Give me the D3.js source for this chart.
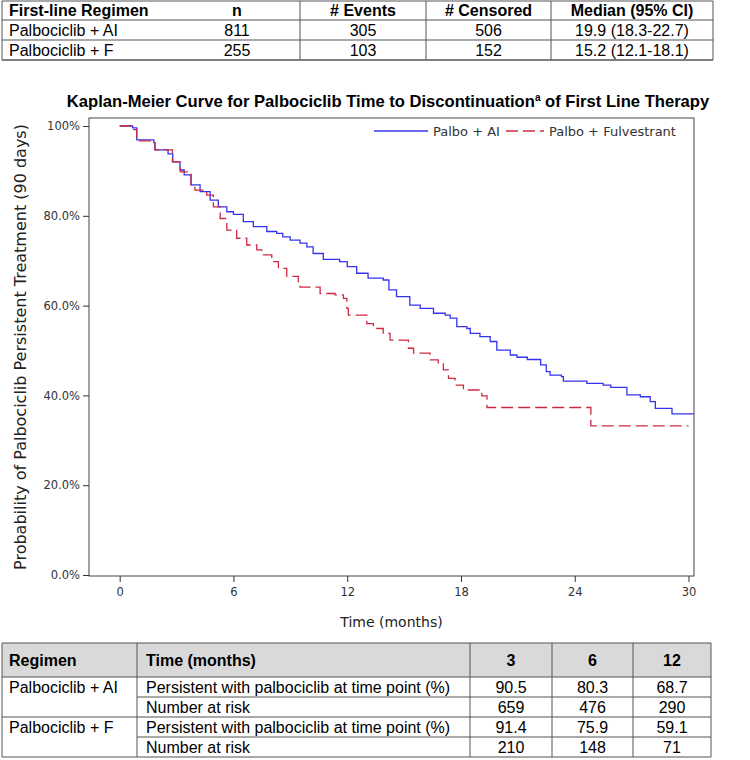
<!DOCTYPE html>
<html><head><meta charset="UTF-8">
<title>Kaplan-Meier Curve</title>
<script src="https://d3js.org/d3.v7.min.js"></script>
<style>
	body { margin: 0; background: #fff; }
	.tbl { font-family: "Liberation Sans", Arial, sans-serif; font-size: 16px; fill: #000; }
	.axis text { font-family: "DejaVu Sans", sans-serif; font-size: 11.5px; fill: #333; }
	.axis line { stroke: #333; }
</style>
</head>
<body>
<svg id="chart" width="750" height="760"></svg>
<script>
// KM step points: [month, probability]
var aiCurve = [[0,1.0],[0.68,0.996],[0.9,0.969],[1.8,0.963],[1.86,0.947],[2.55,0.938],[2.8,0.920],
	[3.18,0.902],[3.4,0.891],[3.76,0.869],[4.24,0.854],[4.77,0.835],[5.2,0.820],[5.65,0.809],[6.0,0.803],
	[6.52,0.787],[7.05,0.776],[7.76,0.765],[8.28,0.761],[8.6,0.753],[8.99,0.746],[9.51,0.739],[9.87,0.731],
	[10.2,0.716],[10.74,0.703],[11.6,0.698],[12.0,0.687],[12.5,0.672],[13.1,0.661],[13.9,0.657],[14.2,0.635],
	[14.6,0.620],[15.3,0.601],[15.85,0.594],[16.55,0.583],[17.17,0.579],[17.43,0.572],[17.78,0.553],
	[18.31,0.549],[18.49,0.538],[19.0,0.531],[19.54,0.520],[19.89,0.501],[20.6,0.490],[20.95,0.485],
	[21.5,0.480],[22.2,0.468],[22.5,0.453],[22.7,0.445],[23.3,0.442],[23.4,0.432],[24.64,0.427],
	[25.5,0.423],[25.9,0.418],[26.75,0.401],[27.46,0.397],[27.98,0.386],[28.25,0.371],[29.13,0.359],[30.3,0.359]];
var fCurve = [[0,1.0],[0.68,0.992],[0.9,0.967],[1.86,0.947],[2.78,0.920],[3.2,0.898],[3.76,0.869],
	[3.97,0.857],[4.59,0.846],[4.94,0.820],[5.3,0.794],[5.65,0.768],[6.17,0.750],[6.7,0.735],[7.23,0.724],
	[7.49,0.713],[8.02,0.698],[8.37,0.683],[8.81,0.665],[9.42,0.650],[9.51,0.641],[10.57,0.627],
	[11.36,0.624],[11.8,0.616],[11.98,0.594],[12.06,0.579],[13.03,0.560],[13.38,0.549],[13.9,0.538],
	[14.26,0.523],[15.23,0.505],[15.5,0.494],[16.37,0.479],[16.8,0.470],[17.07,0.457],[17.34,0.438],
	[17.69,0.423],[18.13,0.412],[19.1,0.399],[19.37,0.373],[24.85,0.332],[30.0,0.332]];

var seriesNames = ["Palbo + AI", "Palbo + Fulvestrant"];
var xTicks = [0, 6, 12, 18, 24, 30];
var yTicks = [0, 0.2, 0.4, 0.6, 0.8, 1.0];
var yTickLabels = ["0.0%", "20.0%", "40.0%", "60.0%", "80.0%", "100%"];

// top summary table
var topHeader = ["First-line Regimen", "n", "# Events", "# Censored", "Median (95% CI)"];
var topRows = [
	["Palbociclib + AI", "811", "305", "506", "19.9 (18.3-22.7)"],
	["Palbociclib + F", "255", "103", "152", "15.2 (12.1-18.1)"]
];

// bottom landmark table
var bottomHeader = ["Regimen", "Time (months)", "3", "6", "12"];
var bottomGroups = ["Palbociclib + AI", "Palbociclib + F"];
var bottomMeasures = ["Persistent with palbociclib at time point (%)", "Number at risk"];
var bottomValues = [
	[["90.5", "80.3", "68.7"], ["659", "476", "290"]],
	[["91.4", "75.9", "59.1"], ["210", "148", "71"]]
];

var svg = d3.select("#chart");
var lineCol = "#555";
var blue = "#3434ee", red = "#cc2a42";

function hline(x1, x2, y, w) {
	svg.append("line").attr("x1", x1).attr("x2", x2).attr("y1", y).attr("y2", y)
		.attr("stroke", lineCol).attr("stroke-width", w || 1);
}
function vline(x, y1, y2) {
	svg.append("line").attr("x1", x).attr("x2", x).attr("y1", y1).attr("y2", y2)
		.attr("stroke", lineCol).attr("stroke-width", 1);
}
function cellText(s, x, yMid, anchor, bold) {
	svg.append("text").attr("class", "tbl").attr("x", x).attr("y", yMid + 5.7)
		.attr("text-anchor", anchor).attr("font-weight", bold ? "bold" : null).text(s);
}

// ---------- top table ----------
var tX = [2, 174, 300, 426, 551, 713];
var tY = [1, 20, 40, 60];
tY.forEach(function(y, i) { hline(tX[0], tX[5], y, i == 3 ? 1.6 : 1); });
[0, 2, 3, 4, 5].forEach(function(i) { vline(tX[i], tY[0], tY[3]); });
var topAll = [topHeader].concat(topRows);
topAll.forEach(function(row, r) {
	var ym = (tY[r] + tY[r + 1]) / 2;
	row.forEach(function(s, c) {
		if (c == 0) cellText(s, tX[0] + 7, ym, "start", r == 0);
		else if (c == 1) cellText(s, 237, ym, "middle", r == 0);
		else cellText(s, (tX[c] + tX[c + 1]) / 2, ym, "middle", r == 0);
	});
});

// ---------- KM plot ----------
var frame = {left: 89, right: 694, top: 118, bottom: 576};
var x = d3.scaleLinear().domain([0, 30]).range([119.7, 688.5]);
var y = d3.scaleLinear().domain([0, 1]).range([575, 126]);

svg.append("text")
	.attr("x", 388).attr("y", 107).attr("text-anchor", "middle")
	.attr("font-family", "Liberation Sans, Arial, sans-serif").attr("font-size", 16.6).attr("font-weight", "bold")
	.call(function(t) {
		t.append("tspan").text("Kaplan-Meier Curve for Palbociclib Time to Discontinuation");
		t.append("tspan").attr("font-size", 10).attr("dy", -6).text("a");
		t.append("tspan").attr("dy", 6).text(" of First Line Therapy");
	});

svg.append("clipPath").attr("id", "clip").append("rect")
	.attr("x", frame.left).attr("y", frame.top)
	.attr("width", frame.right - frame.left).attr("height", frame.bottom - frame.top);

var line = d3.line().x(function(d) { return x(d[0]); }).y(function(d) { return y(d[1]); })
	.curve(d3.curveStepAfter);

var g = svg.append("g").attr("clip-path", "url(#clip)");
g.append("path").datum(aiCurve).attr("d", line)
	.attr("fill", "none").attr("stroke", blue).attr("stroke-width", 1.3);
g.append("path").datum(fCurve).attr("d", line)
	.attr("fill", "none").attr("stroke", red).attr("stroke-width", 1.3)
	.attr("stroke-dasharray", "12,5");

svg.append("rect").attr("x", frame.left).attr("y", frame.top)
	.attr("width", frame.right - frame.left).attr("height", frame.bottom - frame.top)
	.attr("fill", "none").attr("stroke", "#444").attr("stroke-width", 1);

svg.append("g").attr("class", "axis").attr("transform", "translate(" + frame.left + ",0)")
	.call(d3.axisLeft(y).tickValues(yTicks).tickSize(6).tickPadding(3)
		.tickFormat(function(d, i) { return yTickLabels[i]; }))
	.call(function(a) { a.select(".domain").remove(); });

svg.append("g").attr("class", "axis").attr("transform", "translate(0," + frame.bottom + ")")
	.call(d3.axisBottom(x).tickValues(xTicks).tickSize(6).tickPadding(6))
	.call(function(a) { a.select(".domain").remove(); });

svg.append("text").attr("x", (frame.left + frame.right) / 2).attr("y", 627)
	.attr("text-anchor", "middle").attr("font-family", "DejaVu Sans, sans-serif")
	.attr("font-size", 14).attr("fill", "#222").text("Time (months)");

svg.append("text").attr("transform", "translate(26," + ((frame.top + frame.bottom) / 2) + ") rotate(-90)")
	.attr("text-anchor", "middle").attr("font-family", "DejaVu Sans, sans-serif")
	.attr("font-size", 16).attr("fill", "#222")
	.text("Probability of Palbociclib Persistent Treatment (90 days)");

// legend, laid out left to right from the blue sample
var legY = 131, lx = 374;
[{name: seriesNames[0], len: 54, col: blue, dash: null},
 {name: seriesNames[1], len: 38, col: red, dash: "12,5"}].forEach(function(l) {
	svg.append("line").attr("x1", lx).attr("x2", lx + l.len).attr("y1", legY).attr("y2", legY)
		.attr("stroke", l.col).attr("stroke-width", 1.3).attr("stroke-dasharray", l.dash);
	var t = svg.append("text").attr("x", lx + l.len + 5).attr("y", legY + 4.5)
		.attr("font-family", "DejaVu Sans, sans-serif")
		.attr("font-size", 13).attr("fill", "#333").text(l.name);
	lx = lx + l.len + 5 + t.node().getComputedTextLength() + 6;
});

// ---------- bottom table ----------
var bX = [2, 137, 470, 552, 633, 711];
var bY = [643, 677, 697, 717, 737, 757];
svg.append("rect").attr("x", bX[0]).attr("y", bY[0]).attr("width", bX[5] - bX[0]).attr("height", bY[1] - bY[0])
	.attr("fill", "#d9d9d9");
hline(bX[0], bX[5], bY[0]);
hline(bX[0], bX[5], bY[1]);
hline(bX[1], bX[5], bY[2]);
hline(bX[0], bX[5], bY[3]);
hline(bX[1], bX[5], bY[4]);
hline(bX[0], bX[5], bY[5]);
bX.forEach(function(xx) { vline(xx, bY[0], bY[5]); });

var hm = (bY[0] + bY[1]) / 2;
cellText(bottomHeader[0], bX[0] + 7, hm, "start", true);
cellText(bottomHeader[1], bX[1] + 9, hm, "start", true);
for (var c = 2; c < 5; c++) cellText(bottomHeader[c], (bX[c] + bX[c + 1]) / 2, hm, "middle", true);

bottomGroups.forEach(function(grp, gi) {
	var r0 = 1 + gi * 2;
	cellText(grp, bX[0] + 7, (bY[r0] + bY[r0 + 1]) / 2, "start", false);
	bottomMeasures.forEach(function(m, mi) {
		var ym = (bY[r0 + mi] + bY[r0 + mi + 1]) / 2;
		cellText(m, bX[1] + 9, ym, "start", false);
		bottomValues[gi][mi].forEach(function(v, vi) {
			cellText(v, (bX[vi + 2] + bX[vi + 3]) / 2, ym, "middle", false);
		});
	});
});
</script>
</body></html>
